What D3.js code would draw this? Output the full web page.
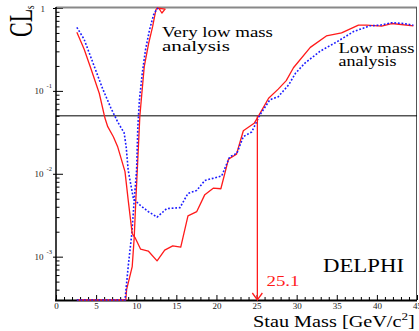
<!DOCTYPE html>
<html>
<head>
<meta charset="utf-8">
<script src="https://cdn.jsdelivr.net/npm/d3@7"></script>
<style>
  html, body { margin: 0; padding: 0; background: #fff; }
  svg { display: block; }
  text { font-family: "Liberation Serif", "Times New Roman", serif; }
</style>
</head>
<body>
<svg id="chart" width="419" height="331"></svg>
<script>
// Low mass analysis, observed CLs vs stau mass (GeV/c^2)
const lowObsMass = [2.6, 3.5, 4.4, 5.4, 6.1, 6.45, 7.15, 7.7, 8.6, 9.0, 9.5, 9.85, 10.55, 11.5, 12.6, 13.55, 14.55, 15.55, 16.45, 17.55, 18.55, 19.6, 20.55, 21.5, 22.5, 23.35, 23.8, 24.7, 25.2, 26.5, 27.7, 28.7, 29.6, 31.7, 33.7, 35.6, 37.7, 38.7, 40.6, 41.85, 44.55];
const lowObsCLs  = [0.51, 0.32, 0.18, 0.093, 0.047, 0.037, 0.028, 0.021, 0.0106, 0.0048, 0.0019, 0.0017, 0.00123, 0.00117, 0.00089, 0.0012, 0.00135, 0.0013, 0.0031, 0.0035, 0.0056, 0.0067, 0.0066, 0.015, 0.0172, 0.033, 0.0354, 0.0406, 0.049, 0.0814, 0.105, 0.133, 0.19, 0.335, 0.46, 0.50, 0.62, 0.62, 0.605, 0.65, 0.61];

// Low mass analysis, expected CLs
const lowExpMass = [2.6, 3.5, 4.55, 5.8, 6.85, 7.7, 8.5, 8.75, 9.0, 9.65, 10.45, 11.5, 12.6, 13.8, 15.45, 16.45, 17.55, 18.55, 20.65, 21.65, 22.55, 23.35, 24.4, 25.4, 26.65, 27.7, 29.0, 29.85, 31.0, 32.9, 35.0, 37.1, 39.15, 40.4, 41.85, 43.3, 44.55];
const lowExpCLs  = [0.585, 0.42, 0.225, 0.107, 0.062, 0.042, 0.031, 0.021, 0.011, 0.005, 0.0042, 0.0035, 0.0030, 0.0038, 0.0039, 0.0058, 0.0063, 0.0083, 0.0094, 0.016, 0.0177, 0.028, 0.032, 0.051, 0.078, 0.085, 0.118, 0.163, 0.215, 0.30, 0.39, 0.52, 0.61, 0.62, 0.665, 0.65, 0.62];

// Very low mass analysis, observed CLs
const vlowObsMass = [2.6, 8.7, 8.8, 9.5, 9.75, 9.95, 10.15, 10.45, 10.7, 11.0, 11.55, 12.05, 12.45, 12.6, 13.6, 13.2, 12.8];
const vlowObsCLs  = [0.0003, 0.0003, 0.0004, 0.00076, 0.0017, 0.0048, 0.012, 0.049, 0.093, 0.196, 0.375, 0.60, 0.95, 1.0, 0.97, 0.87, 1.0];

// Very low mass analysis, expected CLs
const vlowExpMass = [2.6, 8.6, 9.0, 9.45, 9.75, 10.05, 10.2, 10.4, 10.75, 11.15, 11.65, 12.15, 12.5, 12.75];
const vlowExpCLs  = [0.0003, 0.0003, 0.00076, 0.0019, 0.0048, 0.0112, 0.037, 0.078, 0.162, 0.31, 0.54, 0.82, 0.95, 1.0];

// Axis ticks, exclusion level and mass limit
const xMajorTicks = [0, 5, 10, 15, 20, 25, 30, 35, 40, 45];
const yDecades = [0, -1, -2, -3];
const clLevel = 0.05;
const massLimit = 25.1;

const svg = d3.select("#chart");
const x = d3.scaleLinear().domain([0, 45]).range([56, 417]);
const y = d3.scaleLog().domain([3e-4, 1]).range([300, 8]).clamp(true);

// x axis ticks
const xMinor = d3.range(0, 46).filter(v => v % 5 !== 0);
const gxMinor = svg.append("g").attr("transform", "translate(0,300)")
  .call(d3.axisBottom(x).tickValues(xMinor).tickSizeInner(-3).tickSizeOuter(0).tickFormat(""));
const gx = svg.append("g").attr("transform", "translate(0,300)")
  .call(d3.axisBottom(x).tickValues(xMajorTicks).tickSizeInner(-5).tickSizeOuter(0).tickPadding(3));
[gx, gxMinor].forEach(g => {
  g.select(".domain").remove();
  g.selectAll("line").attr("stroke", "#000").attr("stroke-width", 1);
});
gx.selectAll("text").attr("font-size", 9).attr("fill", "#222")
  .attr("font-family", "Liberation Serif, serif");

// y axis ticks
const yMajor = yDecades.map(d => Math.pow(10, d));
const yMinor = [];
for (const d of [-4, -3, -2, -1]) {
  for (let k = 2; k <= 9; k++) {
    const v = k * Math.pow(10, d);
    if (v >= 3e-4 && v < 1) yMinor.push(v);
  }
}
const gyMinor = svg.append("g").attr("transform", "translate(56,0)")
  .call(d3.axisLeft(y).tickValues(yMinor).tickSizeInner(-3.5).tickSizeOuter(0).tickFormat(""));
const gyIn = svg.append("g").attr("transform", "translate(56,0)")
  .call(d3.axisLeft(y).tickValues(yMajor).tickSizeInner(-7).tickSizeOuter(0).tickFormat(""));
const gyOut = svg.append("g").attr("transform", "translate(56,0)")
  .call(d3.axisLeft(y).tickValues(yMajor).tickSizeInner(3).tickSizeOuter(0).tickFormat(""));
[gyMinor, gyIn, gyOut].forEach(g => {
  g.select(".domain").remove();
  g.selectAll("line").attr("stroke", "#000").attr("stroke-width", 1);
});

// y tick labels: 1, 10^-1, 10^-2, 10^-3
yDecades.forEach(d => {
  const py = y(Math.pow(10, d));
  if (d === 0) {
    svg.append("text").attr("x", 45).attr("y", py + 3.7).attr("text-anchor", "end")
      .attr("font-size", 9).attr("fill", "#222").text("1");
  } else {
    svg.append("text").attr("x", 43.5).attr("y", py + 3.3).attr("text-anchor", "end")
      .attr("font-size", 9).attr("fill", "#222").text("10");
    svg.append("text").attr("x", 46.5).attr("y", py - 3).attr("font-size", 6.5)
      .attr("fill", "#222").text("-" + (-d));
  }
});

// frame
svg.append("line").attr("x1", 56).attr("x2", 417).attr("y1", 7.5).attr("y2", 7.5)
  .attr("stroke", "#888").attr("stroke-width", 2);
svg.append("line").attr("x1", 416.5).attr("x2", 416.5).attr("y1", 7).attr("y2", 301)
  .attr("stroke", "#555").attr("stroke-width", 1);
svg.append("line").attr("x1", 56).attr("x2", 56).attr("y1", 7).attr("y2", 301)
  .attr("stroke", "#000").attr("stroke-width", 1.5);
svg.append("line").attr("x1", 55).attr("x2", 417).attr("y1", 300.5).attr("y2", 300.5)
  .attr("stroke", "#000").attr("stroke-width", 2);

// 5% CL line
svg.append("line")
  .attr("x1", x(0)).attr("x2", x(45))
  .attr("y1", y(clLevel)).attr("y2", y(clLevel))
  .attr("stroke", "#000").attr("stroke-width", 1);

// curves, drawn over the frame so the floor segments stay visible
const line = d3.line().x(d => x(d[0])).y(d => y(d[1]));
const zip = (a, b) => a.map((v, i) => [v, b[i]]);

function drawObs(m, c) {
  svg.append("path").attr("d", line(zip(m, c)))
    .attr("fill", "none").attr("stroke", "#ff1a1a").attr("stroke-width", 1.3)
    .attr("stroke-linejoin", "round");
}
function drawExp(m, c) {
  svg.append("path").attr("d", line(zip(m, c)))
    .attr("fill", "none").attr("stroke", "#1a1aff").attr("stroke-width", 1.6)
    .attr("stroke-dasharray", "1.8,1.8");
}
drawObs(vlowObsMass, vlowObsCLs);
drawExp(vlowExpMass, vlowExpCLs);
drawObs(lowObsMass, lowObsCLs);
drawExp(lowExpMass, lowExpCLs);

// mass limit arrow
const ax = x(massLimit), ay0 = y(clLevel), ay1 = y(3e-4);
svg.append("line").attr("x1", ax).attr("x2", ax).attr("y1", ay0).attr("y2", ay1)
  .attr("stroke", "#ff1a1a").attr("stroke-width", 1.3);
svg.append("polyline")
  .attr("points", `${ax - 5},${ay1 - 7} ${ax},${ay1} ${ax + 5},${ay1 - 7}`)
  .attr("fill", "none").attr("stroke", "#ff1a1a").attr("stroke-width", 1.3);

// stretched text helper: fits a label to a given width
function label(str, px, py, size, width, color) {
  const g = svg.append("g");
  const t = g.append("text").attr("font-size", size).attr("fill", color || "#000").text(str);
  const w = t.node().getComputedTextLength();
  g.attr("transform", `translate(${px},${py}) scale(${width / w},1)`);
  return t;
}
label("Very low mass", 162, 36.7, 14, 111);
label("analysis", 162, 51, 14, 68);
label("Low mass", 338.5, 52.7, 14, 76);
label("analysis", 338.5, 65.5, 14, 58);
label("DELPHI", 323, 272, 18.5, 81);
label(String(massLimit), 266.5, 286, 15.5, 33, "#ff1a1a");

// x axis title with superscript
{
  const g = svg.append("g");
  const t = g.append("text").attr("font-size", 17).attr("fill", "#000");
  t.append("tspan").text("Stau Mass [GeV/c");
  t.append("tspan").attr("font-size", 11).attr("dy", -7).text("2");
  t.append("tspan").attr("dy", 7).text("]");
  const w = t.node().getComputedTextLength();
  g.attr("transform", `translate(253,327) scale(${162 / w},1)`);
}

// y axis title CL_s, rotated
{
  const t = svg.append("text").attr("font-size", 22).attr("fill", "#000")
    .attr("transform", "translate(32,37) rotate(-90) scale(1,1.5)");
  t.append("tspan").text("CL");
  t.append("tspan").attr("font-size", 9).attr("dy", 1).text("s");
}
</script>
</body>
</html>
